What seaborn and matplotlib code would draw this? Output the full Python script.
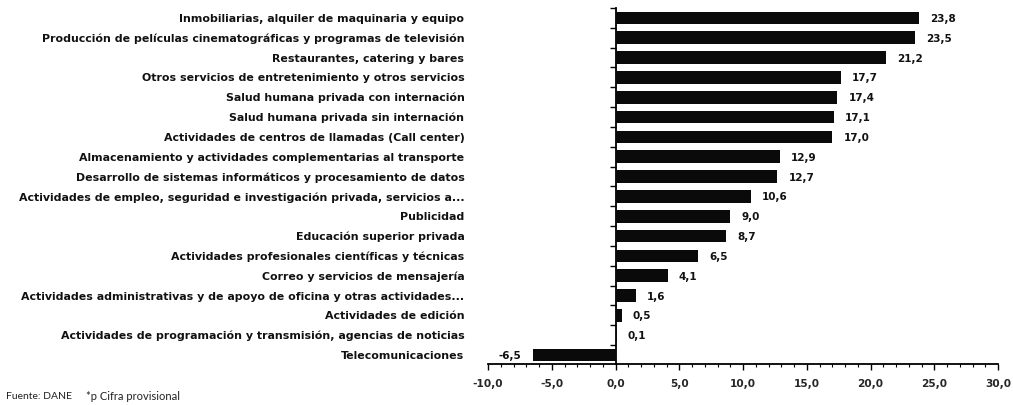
import matplotlib
matplotlib.use("Agg")
import matplotlib.pyplot as plt
import seaborn as sns
import pandas as pd
import numpy as np
from matplotlib.ticker import FuncFormatter, MultipleLocator

categories = [
    "Inmobiliarias, alquiler de maquinaria y equipo",
    "Producción de películas cinematográficas y programas de televisión",
    "Restaurantes, catering y bares",
    "Otros servicios de entretenimiento y otros servicios",
    "Salud humana privada con internación",
    "Salud humana privada sin internación",
    "Actividades de centros de llamadas (Call center)",
    "Almacenamiento y actividades complementarias al transporte",
    "Desarrollo de sistemas informáticos y procesamiento de datos",
    "Actividades de empleo, seguridad e investigación privada, servicios a...",
    "Publicidad",
    "Educación superior privada",
    "Actividades profesionales científicas y técnicas",
    "Correo y servicios de mensajería",
    "Actividades administrativas y de apoyo de oficina y otras actividades...",
    "Actividades de edición",
    "Actividades de programación y transmisión, agencias de noticias",
    "Telecomunicaciones",
]
values = [23.8, 23.5, 21.2, 17.7, 17.4, 17.1, 17.0, 12.9, 12.7, 10.6,
          9.0, 8.7, 6.5, 4.1, 1.6, 0.5, 0.1, -6.5]
x_ticks = [-10, -5, 0, 5, 10, 15, 20, 25, 30]
source_note = "Fuente: DANE"
prov_note = "*p Cifra provisional"

sns.set_theme(style="white")
plt.rcParams['font.family'] = ['DejaVu Sans']

df = pd.DataFrame({"cat": categories, "val": values})

fig = plt.figure(figsize=(10.13, 4.06), dpi=100)
ax = fig.add_axes([488/1013, 41/406, (998-488)/1013, (365-9)/406])

sns.barplot(data=df, x="val", y="cat", orient="h", color="#0a0a0a",
            saturation=1, width=0.64, ax=ax, edgecolor="#0a0a0a", linewidth=0)

ax.set_xlim(-10, 30)
ax.set_ylim(17.45, -0.5)
ax.set_xlabel("")
ax.set_ylabel("")

fmt = lambda v, p=None: f"{v:.1f}".replace(".", ",")
ax.set_xticks(x_ticks)
ax.xaxis.set_major_formatter(FuncFormatter(fmt))
ax.xaxis.set_minor_locator(MultipleLocator(1))
ax.tick_params(axis='x', which='major', length=4, width=1, color='black',
               direction='out', labelsize=7.6, pad=6, bottom=True)
ax.tick_params(axis='x', which='minor', length=2, width=0.8, color='black',
               direction='out', bottom=True)
for lab in ax.get_xticklabels():
    lab.set_fontweight('bold')

ax.tick_params(axis='y', length=0, pad=17, labelsize=7.9)
for lab in ax.get_yticklabels():
    lab.set_fontweight('bold')
    lab.set_color('#111111')
    lab.set_verticalalignment('center')

for s in ['top', 'right', 'left']:
    ax.spines[s].set_visible(False)
ax.spines['bottom'].set_color('black')
ax.spines['bottom'].set_linewidth(1.3)

# zero axis line with category separator ticks
sec = ax.secondary_yaxis(0.25)
sec.set_yticks(np.arange(-0.5, len(categories), 1.0))
sec.set_yticklabels([])
sec.tick_params(axis='y', length=4, width=1, color='black', direction='out')
sec.spines['left'].set_color('black')
sec.spines['left'].set_linewidth(1.3)
for s in ['top', 'right', 'bottom']:
    sec.spines[s].set_visible(False)

for cont in ax.containers:
    ax.bar_label(cont, labels=[fmt(v) for v in values], padding=8,
                 fontsize=7.5, fontweight='bold', color='#111111')

fig.text(6/1013, 1 - 397/406, source_note, fontsize=7.5, va='center',
         ha='left', color='#222222', family=['Lato', 'DejaVu Sans'])
fig.text(86/1013, 1 - 397/406, prov_note, fontsize=8, va='center',
         ha='left', color='#222222', family=['Lato', 'DejaVu Sans'])

fig.savefig("out.png", dpi=100)
